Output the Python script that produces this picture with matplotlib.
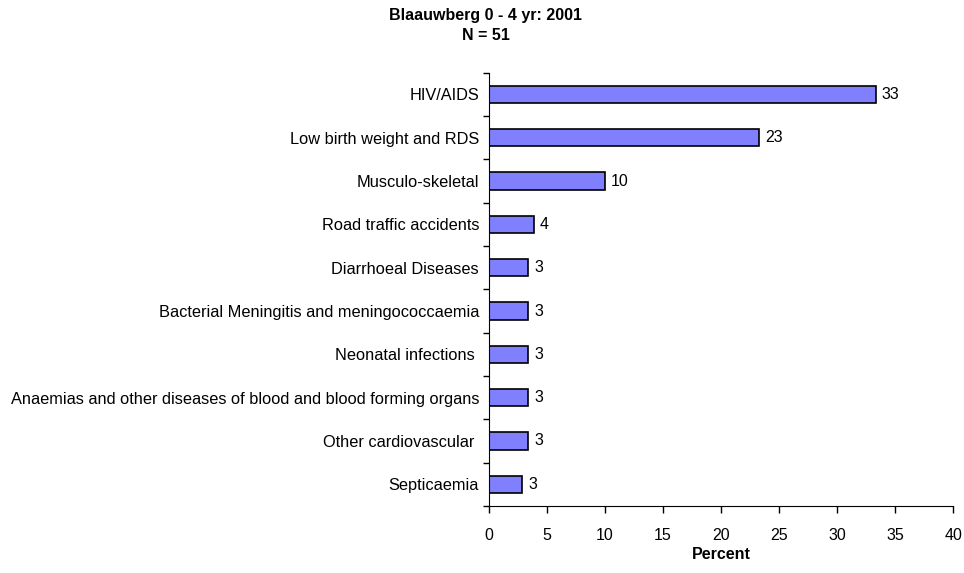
import matplotlib
matplotlib.use("Agg")
import matplotlib.pyplot as plt

plt.rcParams['font.family'] = ['Liberation Sans', 'DejaVu Sans']

causes = ["HIV/AIDS", "Low birth weight and RDS", "Musculo-skeletal",
          "Road traffic accidents", "Diarrhoeal Diseases",
          "Bacterial Meningitis and meningococcaemia", "Neonatal infections ",
          "Anaemias and other diseases of blood and blood forming organs",
          "Other cardiovascular ", "Septicaemia"]
percent = [33.3, 23.3, 10.0, 3.9, 3.4, 3.4, 3.4, 3.4, 3.4, 2.9]
xticks = [0, 5, 10, 15, 20, 25, 30, 35, 40]

fig = plt.figure(figsize=(9.64, 5.73), dpi=100)
ax = fig.add_axes([0.507, 0.117, 0.482, 0.756])

pos = list(range(len(causes)))
ax.barh(pos, percent, height=0.4, color='#8080FF', edgecolor='black', linewidth=1.2)
for p, v in zip(pos, percent):
    ax.text(v + 0.5, p, str(int(round(v))), va='center', ha='left', fontsize=11.5)

ax.set_ylim(len(causes) - 0.5, -0.5)
ax.set_xlim(0, 40)
ax.set_xticks(xticks)
ax.set_yticks(pos)
ax.set_yticklabels(causes, fontsize=11.8)
ax.set_yticks([p + 0.5 for p in range(-1, len(causes))], minor=True)
ax.tick_params(axis='y', which='major', length=0, pad=7)
ax.tick_params(axis='y', which='minor', length=4, width=1)
ax.tick_params(axis='x', length=5, width=1, labelsize=11.5, pad=11)
for s in ['top', 'right']:
    ax.spines[s].set_visible(False)
ax.set_xlabel('Percent', fontsize=11.5, fontweight='bold', labelpad=3)

fig.text(0.504, 0.986, 'Blaauwberg 0 - 4 yr: 2001\nN = 51', ha='center', va='top',
         fontsize=11.5, fontweight='bold', linespacing=1.45)

fig.savefig('out.png', dpi=100)
